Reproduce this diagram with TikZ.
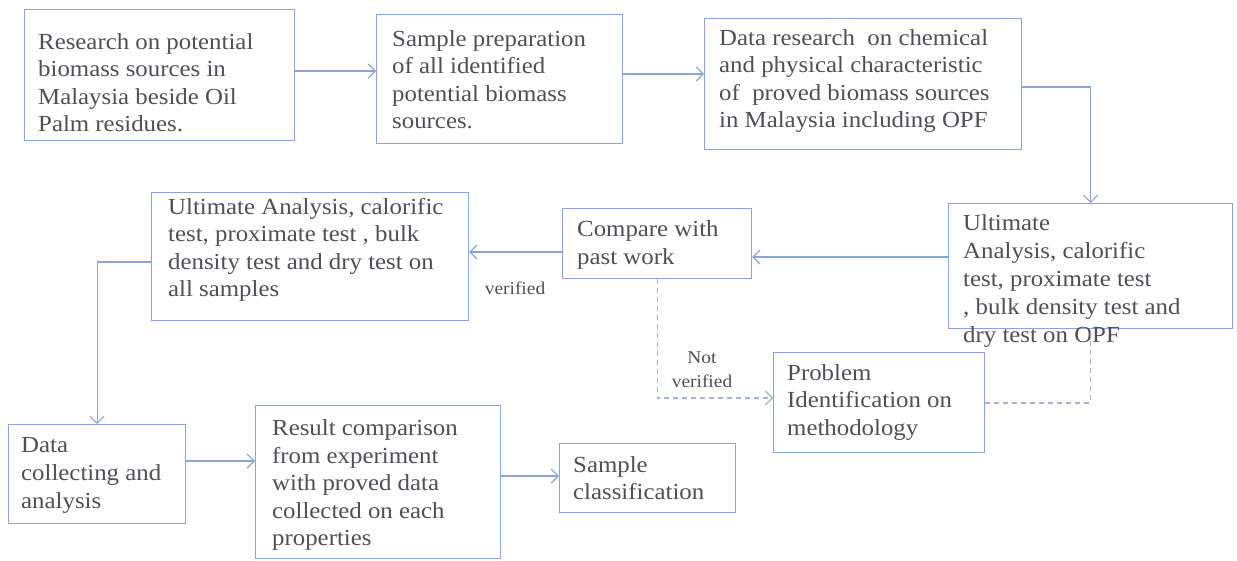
\documentclass[tikz,border=0pt]{standalone}
\usepackage{fontspec}
\setmainfont{Liberation Serif}[FakeStretch=1.08]
\usetikzlibrary{arrows.meta,calc}
\definecolor{boxblue}{HTML}{8CA5D7}
\definecolor{dashblue}{HTML}{A3B3D3}
\definecolor{txtgray}{HTML}{4F4F57}
\begin{document}
\begin{tikzpicture}[x=1pt,y=-1pt,
  box/.style={draw=boxblue,line width=1.2pt,rectangle,inner sep=0pt,anchor=north west},
  txt/.style={text=txtgray,font=\fontsize{23}{27.5}\selectfont,align=left,anchor=west,inner sep=0pt},
  txtd/.style={text=txtgray,font=\fontsize{23}{28}\selectfont,align=left,anchor=west,inner sep=0pt},
  lbl/.style={text=txtgray,font=\fontsize{18}{24}\selectfont,align=center,inner sep=0pt},
  arr/.style={draw=boxblue,line width=1.1pt,-{Straight Barb[length=7pt,width=14pt]}},
  dsh/.style={draw=dashblue,line width=1.1pt,dash pattern=on 5pt off 4pt},
  dsharr/.style={dsh,-{Straight Barb[length=7pt,width=14pt]}}]
\useasboundingbox (0,0) rectangle (1237,560);
\fill[white] (0,0) rectangle (1237,560);

% boxes
\node[box,minimum width=270pt,minimum height=131pt] (A) at (24,9) {};
\node[box,minimum width=246pt,minimum height=129pt] (B) at (376,14) {};
\node[box,minimum width=317pt,minimum height=131pt] (C) at (704,18) {};
\node[box,minimum width=284pt,minimum height=125pt] (D) at (948,203) {};
\node[box,minimum width=189pt,minimum height=70pt] (E) at (562,208) {};
\node[box,minimum width=317pt,minimum height=128pt] (F) at (151,192) {};
\node[box,minimum width=177pt,minimum height=99pt] (G) at (8,424) {};
\node[box,minimum width=245pt,minimum height=153pt] (H) at (255,405) {};
\node[box,minimum width=176pt,minimum height=69pt] (I) at (559,443) {};
\node[box,minimum width=211pt,minimum height=100pt] (J) at (773,352) {};

% texts
\node[txt] (tA) at (38,82.5) {Research on potential\\biomass sources in\\Malaysia beside Oil\\Palm residues.};
\node[txt] (tB) at (392,79.5) {Sample preparation\\of all identified\\potential biomass\\sources.};
\node[txt] (tC) at (719,81) {Data research\ \ on chemical\\and physical characteristic\\of\ \ proved biomass sources\\in Malaysia including OPF};
\node[txtd] (tD) at (963,281) {Ultimate\\Analysis, calorific\\test, proximate test\\, bulk density test and\\dry test on OPF};
\node[txt] (tE) at (577,245) {Compare with\\past work};
\node[txt] (tF) at (168,250) {Ultimate Analysis, calorific\\test, proximate test , bulk\\density test and dry test on\\all samples};
\node[txtd] (tG) at (21,475) {Data\\collecting and\\analysis};
\node[txt] (tH) at (272,485) {Result comparison\\from experiment\\with proved data\\collected on each\\properties};
\node[txt] (tI) at (573,478) {Sample\\classification};
\node[txt] (tJ) at (787,402) {Problem\\Identification on\\methodology};

% labels
\node[lbl] (lv) at (515,288) {verified};
\node[lbl] (lnv) at (702,370) {Not\\verified};

% helper levels
\coordinate (yAB) at (0,71);
\coordinate (yBC) at (0,74);
\coordinate (yCD) at (0,87);
\coordinate (yDE) at (0,257);
\coordinate (yEF) at (0,252);
\coordinate (yFG) at (0,262);
\coordinate (yGH) at (0,461);
\coordinate (yHI) at (0,476);
\coordinate (yEJ) at (0,398);
\coordinate (yJD) at (0,403);

% connectors
\draw[arr] (A.east |- yAB) -- (B.west |- yAB);
\draw[arr] (B.east |- yBC) -- (C.west |- yBC);
\draw[arr] (C.east |- yCD) -| (D.north);
\draw[arr] (D.west |- yDE) -- (E.east |- yDE);
\draw[arr] (E.west |- yEF) -- (F.east |- yEF);
\draw[arr] (F.west |- yFG) -| (G.north);
\draw[arr] (G.east |- yGH) -- (H.west |- yGH);
\draw[arr] (H.east |- yHI) -- (I.west |- yHI);
\draw[dsharr] (E.south) |- (J.west |- yEJ);
\draw[dsh] (J.east |- yJD) -| (D.south);
\end{tikzpicture}
\end{document}
